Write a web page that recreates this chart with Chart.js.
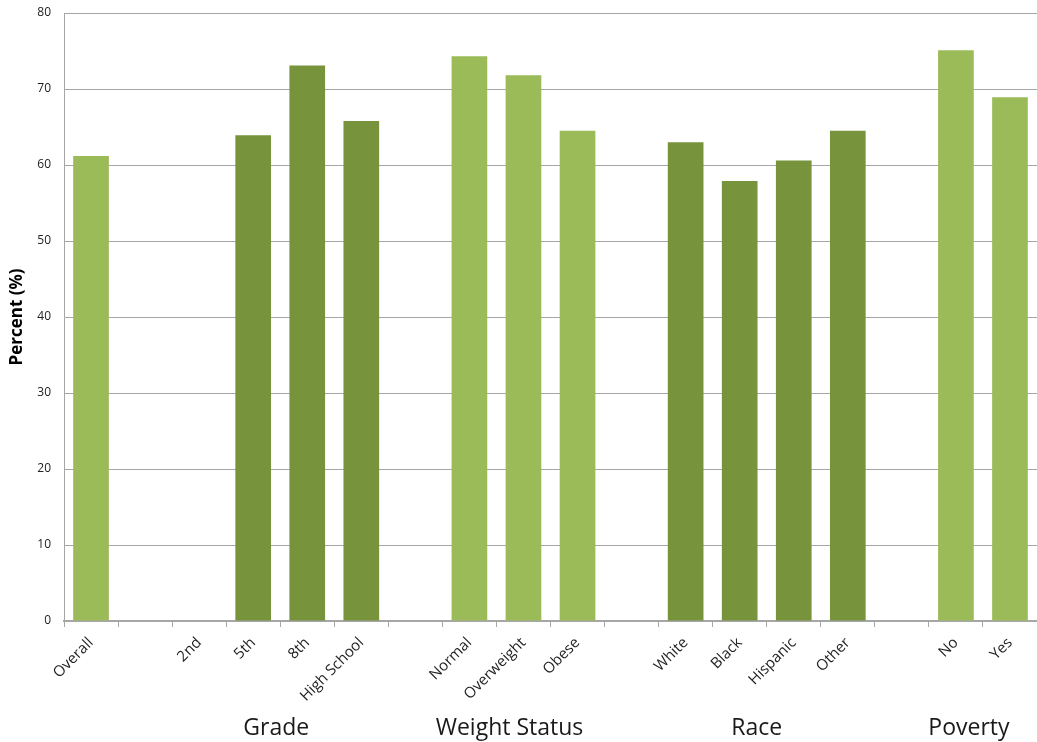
<!DOCTYPE html>
<html>
<head>
<meta charset="utf-8">
<script src="https://cdn.jsdelivr.net/npm/chart.js@4.4.1/dist/chart.umd.min.js"></script>
<style>
    html, body { margin: 0; padding: 0; background: #fff; }
    #wrap { width: 1037px; height: 742px; position: relative; }
</style>
</head>
<body>
<div id="wrap"><canvas id="pctChart"></canvas></div>
<script>
// categories ('' = spacer slot between groups)
const categories = ['Overall', '', '2nd', '5th', '8th', 'High School', '', 'Normal', 'Overweight', 'Obese', '', 'White', 'Black', 'Hispanic', 'Other', '', 'No', 'Yes'];
const percents = [61.2, null, null, 63.9, 73.1, 65.8, null, 74.3, 71.8, 64.5, null, 63.0, 57.9, 60.6, 64.5, null, 75.1, 68.9];
// which group each category belongs to
const groupOf = ['Overall', '', 'Grade', 'Grade', 'Grade', 'Grade', '', 'Weight Status', 'Weight Status', 'Weight Status', '', 'Race', 'Race', 'Race', 'Race', '', 'Poverty', 'Poverty'];
const groupTitles = ['Grade', 'Weight Status', 'Race', 'Poverty'];
const yTicks = [0, 10, 20, 30, 40, 50, 60, 70, 80];

const LIGHT = '#9bbb59';
const DARK = '#77933c';
const darkGroups = ['Grade', 'Race'];
const barColors = groupOf.map(g => darkGroups.includes(g) ? DARK : LIGHT);

// small nudges so group titles sit where the original text boxes are
const titleNudge = { 'Grade': -4, 'Weight Status': -14, 'Race': -10, 'Poverty': -14 };

const groupTitlePlugin = {
    id: 'groupTitles',
    afterDraw(chart) {
        const ctx = chart.ctx;
        const x = chart.scales.x;
        ctx.save();
        ctx.font = '23px "Open Sans", sans-serif';
        ctx.fillStyle = '#1a1a1a';
        ctx.textAlign = 'center';
        ctx.textBaseline = 'middle';
        groupTitles.forEach(t => {
            const idx = groupOf.map((g, i) => g === t ? i : -1).filter(i => i >= 0);
            const first = x.getPixelForValue(idx[0]);
            const last = x.getPixelForValue(idx[idx.length - 1]);
            ctx.fillText(t, (first + last) / 2 + titleNudge[t], 728);
        });
        ctx.restore();
    }
};

const ctx = document.getElementById('pctChart').getContext('2d');
new Chart(ctx, {
    type: 'bar',
    data: {
        labels: categories,
        datasets: [{
            label: 'Percent',
            data: percents,
            backgroundColor: barColors,
            borderWidth: 0,
            barPercentage: 0.66,
            categoryPercentage: 1.0
        }]
    },
    options: {
        responsive: true,
        maintainAspectRatio: false,
        animation: false,
        layout: { padding: { top: 13, left: 0, right: 0, bottom: 0 } },
        plugins: {
            legend: { display: false },
            tooltip: { enabled: false }
        },
        scales: {
            x: {
                offset: true,
                afterFit: scale => { scale.height = 121; },
                grid: {
                    offset: true,
                    drawOnChartArea: false,
                    drawTicks: true,
                    tickLength: 6,
                    color: '#a6a6a6'
                },
                border: { color: '#a6a6a6', width: 2 },
                ticks: {
                    autoSkip: false,
                    minRotation: 45,
                    maxRotation: 45,
                    color: '#222',
                    padding: 7,
                    font: { family: '"Open Sans", sans-serif', size: 15 }
                }
            },
            y: {
                min: 0,
                max: 80,
                afterFit: scale => {
                    scale.width = 64;
                    scale.paddingTop = 0;
                    scale.paddingBottom = 0;
                },
                afterBuildTicks: scale => { scale.ticks = yTicks.map(v => ({ value: v })); },
                grid: { color: '#a6a6a6', lineWidth: 1, drawTicks: false },
                border: { color: '#a6a6a6', width: 1 },
                ticks: {
                    color: '#222',
                    padding: 13,
                    font: { family: '"Open Sans", sans-serif', size: 12 }
                },
                title: {
                    display: true,
                    text: 'Percent (%)',
                    color: '#000',
                    padding: { top: 7, bottom: 0 },
                    font: { family: '"Open Sans", sans-serif', size: 17, weight: 'bold' }
                }
            }
        }
    },
    plugins: [groupTitlePlugin]
});
</script>
</body>
</html>
